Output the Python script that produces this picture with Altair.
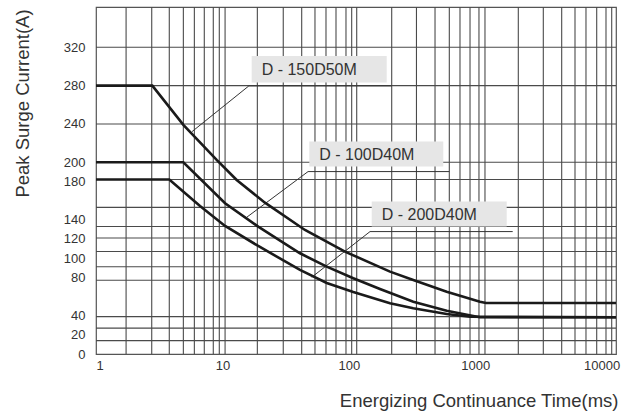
import altair as alt
import pandas as pd

# ---- curve data (time in ms, current in A) ----
a_time = [1, 2.79, 4.91, 9.01, 12.97, 21.7, 45.0, 93.3, 211.8, 323.7, 595, 1091, 1217, 13000]
a_curr = [280, 280, 239, 202.5, 181.6, 157.9, 129.4, 106.8, 85.9, 77.2, 65, 54.6, 53.2, 53.2]
b_time = [1, 4.91, 10.5, 19.2, 41.1, 66.9, 108.5, 176.5, 323.7, 595, 966, 1091, 13000]
b_curr = [200, 200, 157.3, 132.9, 105.1, 91.1, 79, 67.8, 54.6, 45.2, 39.7, 38.3, 38.3]
c_time = [1, 3.80, 6.65, 10.5, 19.2, 41.1, 66.9, 108.5, 211.8, 323.7, 595, 909.6, 13000]
c_curr = [182, 182, 154.5, 133.6, 112.7, 87.7, 74.1, 64.7, 52.9, 47.7, 41.8, 38.9, 38.3]
series_names = ["D - 150D50M", "D - 100D40M", "D - 200D40M"]

# ---- grid (as drawn in the reference) ----
v_grid = [1.73, 2.76, 3.80, 4.91, 6.0, 7.19, 8.47, 9.45, 10.5, 18.9, 30.3, 42.4, 54.0,
          66.0, 79.2, 95.0, 105.4, 115.5, 218.5, 343, 481, 624, 758, 910, 1071, 1195,
          2193, 3458, 4834, 6160, 7524, 9147, 10834, 12022]
h_grid = [320, 280, 240, 200, 182, 153, 133, 121, 107, 91, 77, 39, 27, 14]
x_ticks = [1, 10, 100, 1000, 10000]
y_ticks = [0, 20, 40, 80, 100, 120, 140, 180, 200, 240, 280, 320]

# ---- annotation boxes and leader lines (data units) ----
box_x1 = [17.05, 48.7, 151.8]
box_x2 = [199.5, 559, 1775]
box_y1 = [311, 221.6, 159]
box_y2 = [283.2, 195.5, 132.9]
leader_x = [[5.75, 16.2, 218.5], [15.6, 47.6, 624], [50.9, 147.2, 1980]]
leader_y = [[232, 279.7, 279.7], [142.7, 190.3, 190.3], [80.1, 127.7, 127.7]]

curves = pd.DataFrame(
    [dict(series=series_names[0], t=t, i=c, k=n) for n, (t, c) in enumerate(zip(a_time, a_curr))]
    + [dict(series=series_names[1], t=t, i=c, k=n) for n, (t, c) in enumerate(zip(b_time, b_curr))]
    + [dict(series=series_names[2], t=t, i=c, k=n) for n, (t, c) in enumerate(zip(c_time, c_curr))]
)
leaders = pd.DataFrame(
    [dict(series=series_names[s], t=leader_x[s][j], i=leader_y[s][j], k=j)
     for s in range(3) for j in range(3)]
)
boxes = pd.DataFrame(dict(series=series_names, x1=box_x1, x2=box_x2, y1=box_y1, y2=box_y2,
                          ym=[(a + b) / 2 for a, b in zip(box_y1, box_y2)]))
vg = pd.DataFrame(dict(t=v_grid))
hg = pd.DataFrame(dict(i=h_grid))

xscale = alt.Scale(type="log", domain=[1, 13000], nice=False)
yscale = alt.Scale(domain=[0, 362], nice=False, zero=False)
FONT = "Liberation Sans"

xaxis = alt.Axis(values=x_ticks, format="d", grid=False, ticks=False, tickSize=0, domain=False,
                 labelFontSize=13, labelColor="#333", labelPadding=5, labelFont=FONT,
                 title="Energizing Continuance Time(ms)", titleFont=FONT, titleFontSize=18.5,
                 titleFontWeight="normal", titleColor="#333", titleX=522, titleY=46,
                 titleAlign="right", titleBaseline="middle")
yaxis = alt.Axis(values=y_ticks, grid=False, ticks=False, tickSize=0, domain=False,
                 labelFontSize=13, labelColor="#333", labelPadding=11, labelFont=FONT,
                 title="Peak Surge Current(A)", titleFont=FONT, titleFontSize=18.5,
                 titleFontWeight="normal", titleColor="#333", titleAngle=270,
                 titleX=-74, titleY=96, titleAlign="center", titleBaseline="middle")

lines = alt.Chart(curves).mark_line(color="#1a1a1a", strokeWidth=2.6, clip=True).encode(
    x=alt.X("t:Q", scale=xscale, axis=xaxis),
    y=alt.Y("i:Q", scale=yscale, axis=yaxis),
    detail="series:N", order="k:Q")

vlines = alt.Chart(vg).mark_rule(color="#4a4a4a", strokeWidth=1.1).encode(
    x=alt.X("t:Q", scale=xscale, axis=xaxis))
hlines = alt.Chart(hg).mark_rule(color="#4a4a4a", strokeWidth=1.1).encode(
    y=alt.Y("i:Q", scale=yscale, axis=yaxis))

lead = alt.Chart(leaders).mark_line(color="#333", strokeWidth=1).encode(
    x=alt.X("t:Q", scale=xscale, axis=xaxis),
    y=alt.Y("i:Q", scale=yscale, axis=yaxis),
    detail="series:N", order="k:Q")

rects = alt.Chart(boxes).mark_rect(color="#e6e6e6").encode(
    x=alt.X("x1:Q", scale=xscale, axis=xaxis), x2="x2:Q",
    y=alt.Y("y1:Q", scale=yscale, axis=yaxis), y2="y2:Q")

texts = alt.Chart(boxes).mark_text(align="left", baseline="middle", dx=10, dy=1,
                                   fontSize=16, font=FONT, color="#333").encode(
    x=alt.X("x1:Q", scale=xscale, axis=xaxis),
    y=alt.Y("ym:Q", scale=yscale, axis=yaxis),
    text="series:N")

chart = alt.layer(vlines, hlines, lead, rects, texts, lines).properties(
    width=520, height=347,
    autosize=alt.AutoSizeParams(type="none"),
    padding={"left": 96, "top": 7, "right": 13, "bottom": 58},
    background="white",
).configure_view(stroke="#555", strokeWidth=1.2)

chart.save("out.html", embed_options={"renderer": "svg", "actions": False})
